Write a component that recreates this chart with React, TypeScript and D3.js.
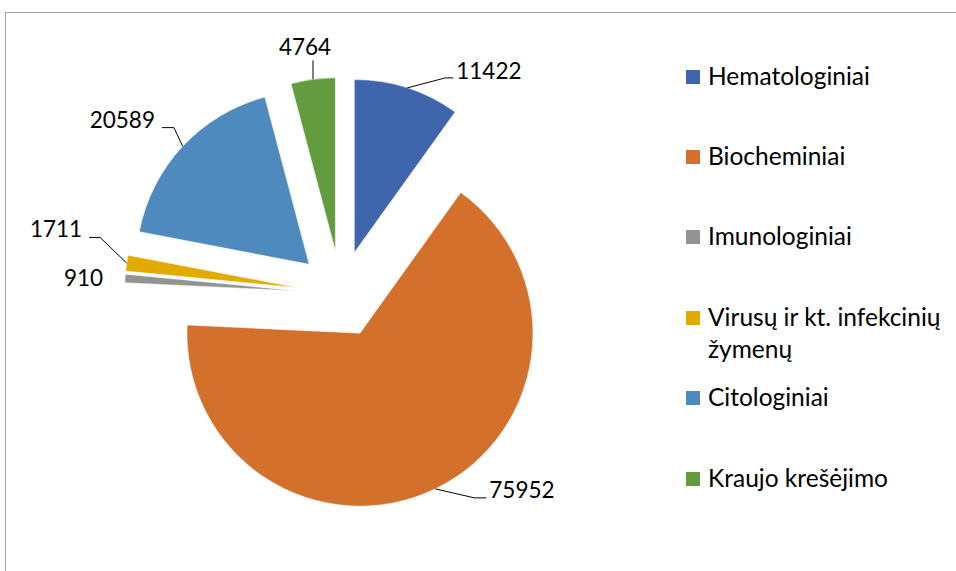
import React from "react";
import * as d3 from "d3";

const categories = [
  "Hematologiniai",
  "Biocheminiai",
  "Imunologiniai",
  "Virusų ir kt. infekcinių žymenų",
  "Citologiniai",
  "Kraujo krešėjimo",
];
const values = [11422, 75952, 910, 1711, 20589, 4764];
const colors = ["#3F65AD", "#D3702B", "#939393", "#E3AB00", "#4F8ABE", "#629C3E"];
const legendLines = [
  ["Hematologiniai"],
  ["Biocheminiai"],
  ["Imunologiniai"],
  ["Virusų ir kt. infekcinių", "žymenų"],
  ["Citologiniai"],
  ["Kraujo krešėjimo"],
];

// label layout: elbow offset from arc point, horizontal run, text side
const labelLayout = [
  { ex: 38, ey: -10, run: 8, side: "right", ty: 1.6 },
  { ex: 39, ey: 9, run: 12, side: "right", ty: 0 },
  { ex: -15, ey: 7.5, run: 0, side: "left", ty: 0, noLeader: true },
  { ex: -26.6, ey: -25.7, run: -11, side: "left", ty: 0 },
  { ex: -8.7, ey: -18.7, run: -12, side: "left", ty: 0 },
  { ex: 0, ey: -19, run: 0, side: "center", ty: -5.7 },
];

const W = 956;
const H = 571;
const cx = 341;
const cy = 294;
const R = 173;
const explode = 43.5;
const FONT = "Lato, 'Open Sans', sans-serif";

export default function App() {
  const pie = d3
    .pie<number>()
    .sort(null)
    .startAngle(0)
    .endAngle(2 * Math.PI)
    .value((d) => d);
  const arcs = pie(values);
  const arcGen = d3.arc<d3.PieArcDatum<number>>().innerRadius(0).outerRadius(R);

  return (
    <svg
      width={W}
      height={H}
      style={{ position: "absolute", left: 0, top: 0, background: "#fff" }}
      fontFamily={FONT}
    >
      <rect x={5.5} y={12.5} width={1200} height={1200} fill="none" stroke="#a3a3a3" strokeWidth={1} />
      {arcs.map((a, i) => {
        const mid = (a.startAngle + a.endAngle) / 2;
        const ox = cx + Math.sin(mid) * explode;
        const oy = cy - Math.cos(mid) * explode;
        return (
          <path
            key={"s" + i}
            d={arcGen(a) || ""}
            transform={`translate(${ox},${oy})`}
            fill={colors[i]}
            stroke="#fff"
            strokeWidth={0.5}
          />
        );
      })}
      {arcs.map((a, i) => {
        const mid = (a.startAngle + a.endAngle) / 2;
        const ox = cx + Math.sin(mid) * explode;
        const oy = cy - Math.cos(mid) * explode;
        const ax = ox + Math.sin(mid) * R;
        const ay = oy - Math.cos(mid) * R;
        const L = labelLayout[i];
        const exx = ax + L.ex;
        const eyy = ay + L.ey;
        const hx = exx + L.run;
        let tx = hx;
        let anchor: "start" | "end" | "middle" = "start";
        if (L.side === "right") {
          tx = hx + 3;
          anchor = "start";
        } else if (L.side === "left") {
          tx = hx - 7;
          anchor = "end";
        } else {
          tx = hx - 8;
          anchor = "middle";
        }
        return (
          <g key={"l" + i}>
            {!L.noLeader && (
              <polyline
                points={`${ax},${ay} ${exx},${eyy} ${hx},${eyy}`}
                fill="none"
                stroke="#000"
                strokeWidth={1}
              />
            )}
            <text x={tx} y={eyy + L.ty} textAnchor={anchor} fontSize={22.5} fill="#000">
              {d3.format("d")(values[i])}
            </text>
          </g>
        );
      })}
      {categories.map((c, i) => {
        const rowY = [77, 157, 237, 318, 398, 479][i];
        return (
          <g key={"lg" + i}>
            <rect x={686} y={rowY - 7} width={14} height={14} fill={colors[i]} />
            {legendLines[i].map((ln, j) => (
              <text key={j} x={708} y={rowY + 8 + j * 32.3} fontSize={24.5} fill="#000">
                {ln}
              </text>
            ))}
          </g>
        );
      })}
    </svg>
  );
}
